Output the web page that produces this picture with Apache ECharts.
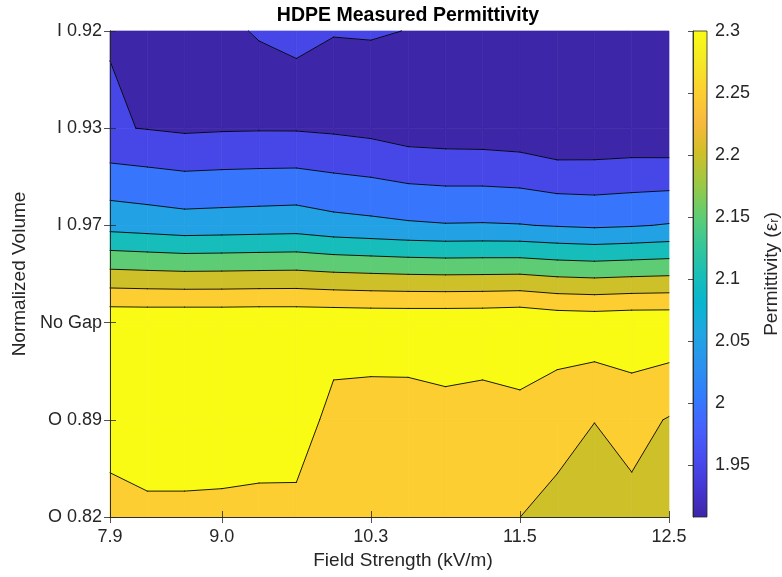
<!DOCTYPE html>
<html>
<head>
<meta charset="utf-8">
<script src="https://cdn.jsdelivr.net/npm/echarts@6/dist/echarts.min.js"></script>
<style>
html, body { margin: 0; padding: 0; background: #fff; }
#hdpe_figure { width: 782px; height: 577px; }
</style>
</head>
<body>
<div id="hdpe_figure"></div>
<script>
// x: 16 field strength steps, only a few are labelled
var fieldTickIdx = [0, 3, 7, 11, 15];
var fieldTickLabels = ['7.9', '9.0', '10.3', '11.5', '12.5'];
// y: normalized volume, bottom -> top
var volumeLabels = ['O 0.82', 'O 0.89', 'No Gap', 'I 0.97', 'I 0.93', 'I 0.92'];

// measured permittivity, one row per volume
var epsI092  = [1.9484, 1.944, 1.943, 1.949, 1.9504, 1.9515, 1.9505, 1.9514, 1.9497, 1.945, 1.942, 1.94, 1.935, 1.932, 1.93, 1.93];
var epsI093  = [1.9536, 1.9484, 1.9431, 1.9455, 1.9465, 1.9462, 1.9425, 1.9366, 1.9251, 1.9223, 1.921, 1.9168, 1.903, 1.9053, 1.908, 1.9052];
var epsI097  = [2.0834, 2.0777, 2.0715, 2.0734, 2.0754, 2.0776, 2.0672, 2.0622, 2.0565, 2.0529, 2.0538, 2.052, 2.0471, 2.043, 2.0468, 2.0528];
var epsNoGap = [2.3422, 2.342, 2.3432, 2.3428, 2.3437, 2.3433, 2.3429, 2.3415, 2.3415, 2.3421, 2.3429, 2.3468, 2.3363, 2.3334, 2.3372, 2.3373];
var epsO089  = [2.33, 2.335, 2.335, 2.335, 2.338, 2.35, 2.2702, 2.2669, 2.2678, 2.2782, 2.2702, 2.2792, 2.2614, 2.2505, 2.2655, 2.247];
var epsO082  = [2.2749, 2.2873, 2.2873, 2.2856, 2.2796, 2.2724, 2.275, 2.27, 2.268, 2.265, 2.262, 2.2501, 2.2409, 2.235, 2.2367, 2.235];

var contourLevels = [1.95, 2.0, 2.05, 2.1, 2.15, 2.2, 2.25, 2.3];
var colorbarTicks = [1.95, 2.0, 2.05, 2.1, 2.15, 2.2, 2.25, 2.3];
var cmin = 1.908, cmax = 2.3;

// parula colormap (every 4th entry)
var parula = ['#3e26a8', '#4537d5', '#484df0', '#4563fd', '#327cfc', '#2b91ef', '#20a5e3', '#08b5d0',
    '#19bfb6', '#37c897', '#64cd6f', '#9dc943', '#d1bf27', '#f8ba3d', '#fccf30', '#f5e924', '#f9fb15'];

var fontFamily = '"Liberation Sans", Helvetica, Arial, sans-serif';
var axisColor = '#262626';

function hexRgb(h) {
    return [parseInt(h.substr(1, 2), 16), parseInt(h.substr(3, 2), 16), parseInt(h.substr(5, 2), 16)];
}

function parulaAt(v) {
    var t = Math.min(1, Math.max(0, (v - cmin) / (cmax - cmin)));
    var pos = t * (parula.length - 1);
    var i = Math.min(parula.length - 2, Math.floor(pos));
    var f = pos - i;
    var a = hexRgb(parula[i]), b = hexRgb(parula[i + 1]);
    var c = a.map(function (x, k) { return Math.round(x + (b[k] - x) * f); });
    return 'rgb(' + c.join(',') + ')';
}

// fill colour of each band = colour of its lower level
var bandColors = [parulaAt(cmin)].concat(contourLevels.map(parulaAt));

var grid = [epsO082, epsO089, epsNoGap, epsI097, epsI093, epsI092];

// clip a polygon (vertices carry z) against z >= level or z < level
function clip(poly, level, keepAbove) {
    var out = [];
    var n = poly.length;
    for (var i = 0; i < n; i++) {
        var cur = poly[i], prev = poly[(i + n - 1) % n];
        var curIn = keepAbove ? cur.z >= level : cur.z < level;
        var prevIn = keepAbove ? prev.z >= level : prev.z < level;
        if (curIn !== prevIn) {
            var t = (level - prev.z) / (cur.z - prev.z);
            out.push({ x: prev.x + (cur.x - prev.x) * t, y: prev.y + (cur.y - prev.y) * t, z: level, cut: true });
        }
        if (curIn) out.push({ x: cur.x, y: cur.y, z: cur.z, cut: false });
    }
    return out;
}

var fills = [], segs = [];
var bounds = [-Infinity].concat(contourLevels, [Infinity]);
for (var r = 0; r < grid.length - 1; r++) {
    for (var c = 0; c < grid[r].length - 1; c++) {
        var quad = [
            { x: c, y: r, z: grid[r][c] },
            { x: c + 1, y: r, z: grid[r][c + 1] },
            { x: c + 1, y: r + 1, z: grid[r + 1][c + 1] },
            { x: c, y: r + 1, z: grid[r + 1][c] }
        ];
        for (var k = 0; k < bounds.length - 1; k++) {
            var p = quad;
            if (bounds[k] > -Infinity) p = clip(p, bounds[k], true);
            if (p.length && bounds[k + 1] < Infinity) p = clip(p, bounds[k + 1], false);
            if (p.length >= 3) fills.push({ pts: p, color: bandColors[k] });
        }
        contourLevels.forEach(function (lv) {
            var q = clip(quad, lv, true);
            for (var i = 0; i < q.length; i++) {
                var a = q[i], b = q[(i + 1) % q.length];
                if (q.length > 2 && a.cut && b.cut) segs.push([a, b]);
            }
        });
    }
}

var hdpe_figure = echarts.init(document.getElementById('hdpe_figure'));

var tickLabelStyle = { color: axisColor, fontSize: 18, fontFamily: fontFamily };
var axisLineStyle = { show: true, lineStyle: { color: axisColor, width: 0.8 } };
var tickStyle = { inside: true, length: 6, lineStyle: { color: axisColor, width: 0.8 } };

var option = {
    backgroundColor: '#fff',
    animation: false,
    title: {
        text: 'HDPE Measured Permittivity',
        left: 403,
        textAlign: 'center',
        top: 1,
        textStyle: { fontSize: 19.5, fontWeight: 'bold', color: '#000', fontFamily: fontFamily }
    },
    grid: [
        { left: 110, right: 113, top: 31, bottom: 60 },
        { left: 693, width: 19, top: 31, bottom: 60 }
    ],
    xAxis: [
        {
            type: 'value', gridIndex: 0, min: 0, max: 15, z: 10,
            axisLine: axisLineStyle,
            axisTick: Object.assign({ customValues: fieldTickIdx }, tickStyle),
            axisLabel: Object.assign({
                customValues: fieldTickIdx, margin: 11,
                formatter: function (v) { return fieldTickLabels[fieldTickIdx.indexOf(v)]; }
            }, tickLabelStyle),
            splitLine: { show: false },
            name: 'Field Strength (kV/m)', nameLocation: 'middle', nameGap: 33,
            nameTextStyle: { color: axisColor, fontSize: 19, fontFamily: fontFamily, padding: [0, 0, 0, 27] }
        },
        {
            type: 'value', gridIndex: 0, min: 0, max: 15, position: 'top', z: 10,
            axisLine: axisLineStyle,
            axisTick: Object.assign({ customValues: fieldTickIdx }, tickStyle),
            axisLabel: { show: false },
            splitLine: { show: false }
        },
        {
            type: 'value', gridIndex: 1, min: 0, max: 1, show: false
        }
    ],
    yAxis: [
        {
            type: 'value', gridIndex: 0, min: 0, max: 5, interval: 1, z: 10,
            axisLine: axisLineStyle,
            axisTick: tickStyle,
            axisLabel: Object.assign({
                margin: 8,
                formatter: function (v) { return volumeLabels[v]; }
            }, tickLabelStyle),
            splitLine: { show: false },
            name: 'Normalized Volume', nameLocation: 'middle', nameGap: 81,
            nameTextStyle: { color: axisColor, fontSize: 19, fontFamily: fontFamily }
        },
        {
            type: 'value', gridIndex: 0, min: 0, max: 5, interval: 1, position: 'right', z: 10,
            axisLine: axisLineStyle,
            axisTick: tickStyle,
            axisLabel: { show: false },
            splitLine: { show: false }
        },
        {
            type: 'value', gridIndex: 1, min: cmin, max: cmax, position: 'right', z: 10,
            axisLine: axisLineStyle,
            axisTick: { inside: true, length: 5, customValues: colorbarTicks, lineStyle: { color: axisColor, width: 0.8 } },
            axisLabel: Object.assign({
                customValues: colorbarTicks, margin: 8,
                formatter: function (v) { return String(parseFloat(v.toFixed(2))); }
            }, tickLabelStyle),
            splitLine: { show: false },
            name: '{n|Permittivity (ε}{s|r}{n|)}', nameLocation: 'middle', nameGap: 52, nameRotate: 90,
            nameTextStyle: {
                rich: {
                    n: { fontSize: 19, color: axisColor, fontFamily: fontFamily, lineHeight: 22, verticalAlign: 'bottom' },
                    s: { fontSize: 13, color: axisColor, fontFamily: fontFamily, lineHeight: 10, verticalAlign: 'bottom' }
                }
            }
        }
    ],
    series: [
        {
            type: 'custom',
            xAxisIndex: 0,
            yAxisIndex: 0,
            silent: true,
            z: 1,
            data: [[0, 0]],
            renderItem: function (params, api) {
                var children = [];
                fills.forEach(function (f) {
                    children.push({
                        type: 'polygon',
                        shape: { points: f.pts.map(function (q) { return api.coord([q.x, q.y]); }) },
                        style: { fill: f.color, stroke: f.color, lineWidth: 0.7 }
                    });
                });
                segs.forEach(function (s) {
                    var a = api.coord([s[0].x, s[0].y]), b = api.coord([s[1].x, s[1].y]);
                    children.push({
                        type: 'line',
                        shape: { x1: a[0], y1: a[1], x2: b[0], y2: b[1] },
                        style: { stroke: '#000', lineWidth: 0.9, lineCap: 'round' }
                    });
                });
                return { type: 'group', children: children };
            }
        },
        {
            type: 'custom',
            xAxisIndex: 2,
            yAxisIndex: 2,
            silent: true,
            z: 1,
            data: [[0, 0]],
            renderItem: function (params, api) {
                var p0 = api.coord([0, cmin]), p1 = api.coord([1, cmax]);
                var stops = parula.map(function (col, i) { return { offset: i / (parula.length - 1), color: col }; });
                return {
                    type: 'rect',
                    shape: { x: p0[0], y: p1[1], width: p1[0] - p0[0], height: p0[1] - p1[1] },
                    style: { fill: new echarts.graphic.LinearGradient(0, 1, 0, 0, stops), stroke: axisColor, lineWidth: 0.8 }
                };
            }
        }
    ]
};

hdpe_figure.setOption(option);
</script>
</body>
</html>
